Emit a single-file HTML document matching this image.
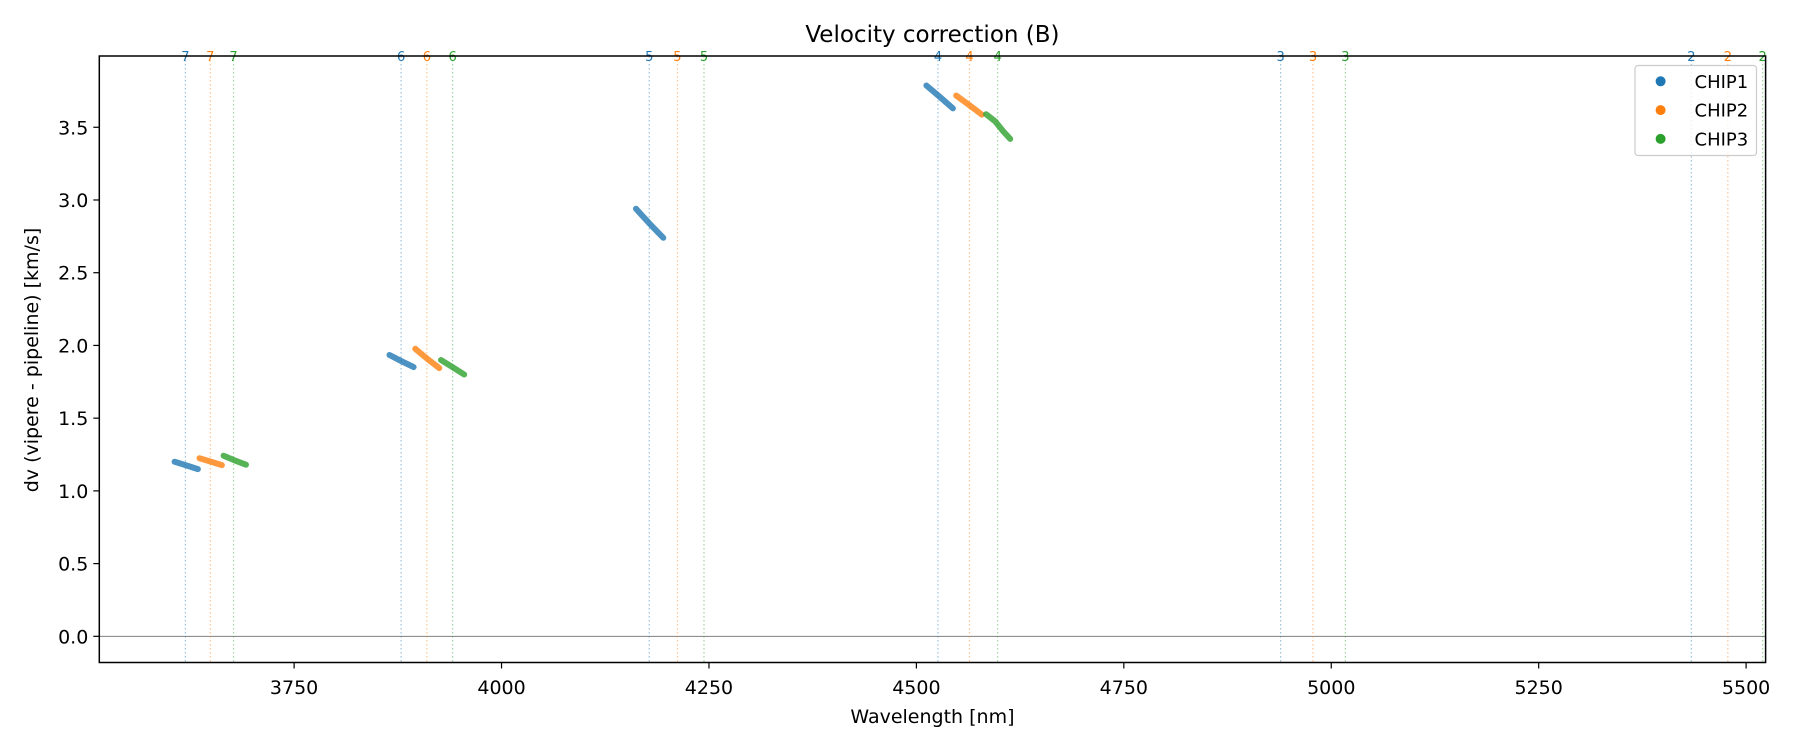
<!DOCTYPE html>
<html><head><meta charset="utf-8"><style>
html,body{margin:0;padding:0;background:#fff}
svg text{font-family:"DejaVu Sans","Liberation Sans",sans-serif}
</style></head><body>
<svg id="chart" width="1800" height="750" viewBox="0 0 1800 750" xmlns="http://www.w3.org/2000/svg">
<rect x="0" y="0" width="1800" height="750" fill="#fff"/>
<g id="grid"></g>
<g id="series"></g>
<g id="axes"></g>
</svg>
<script>
const chips = ['CHIP1','CHIP2','CHIP3'];
const colors = ['#1f77b4','#ff7f0e','#2ca02c'];
const orders = ['7','6','5','4','3','2'];
// order centre wavelengths per chip
const orderWl1 = [3619,3879,4178,4526,4939,5434];
const orderWl2 = [3649,3910,4212,4564,4978,5478];
const orderWl3 = [3677,3941,4244,4598,5017,5520];
// segments: wavelengths and dv values
const seg1Wl = [[3606,3620,3634],[3865,3880,3894],[4162,4178,4195],[4512,4528,4544]];
const seg1Dv = [[1.20,1.175,1.15],[1.934,1.89,1.851],[2.94,2.84,2.74],[3.787,3.71,3.63]];
const seg2Wl = [[3636,3650,3663],[3896,3910,3925],[4548,4563,4579]];
const seg2Dv = [[1.225,1.20,1.177],[1.977,1.91,1.844],[3.718,3.655,3.587]];
const seg3Wl = [[3665,3678,3692],[3927,3941,3955],[4584,4595,4605,4613]];
const seg3Dv = [[1.242,1.21,1.18],[1.90,1.85,1.80],[3.59,3.54,3.47,3.42]];
const xTicks = [3750,4000,4250,4500,4750,5000,5250,5500];
const yTicks = [0.0,0.5,1.0,1.5,2.0,2.5,3.0,3.5];

const L=99.3,R=1765.6,T=56,B=662.5;
const xMin=3515.2,xMax=5523.5,yMin=-0.18,yMax=3.99;
function x(v){return L+(v-xMin)/(xMax-xMin)*(R-L);}
function y(v){return B-(v-yMin)/(yMax-yMin)*(B-T);}
const NS='http://www.w3.org/2000/svg';
function mk(tag,attrs,parent,txt){const e=document.createElementNS(NS,tag);for(const k in attrs)e.setAttribute(k,attrs[k]);if(txt!==undefined)e.textContent=txt;parent.appendChild(e);return e;}
const grid=document.getElementById('grid'),series=document.getElementById('series'),axes=document.getElementById('axes');

// zero line
const z=mk('line',{x1:L,x2:R,y1:y(0),y2:y(0),stroke:'#808080','stroke-width':1},grid);



[orderWl1,orderWl2,orderWl3].forEach((arr,ci)=>{
  arr.forEach((w,i)=>{
    const ln=mk('line',{x1:x(w),x2:x(w),y1:T,y2:B,stroke:colors[ci],'stroke-width':1.2,'stroke-dasharray':'1.5 2.5','stroke-opacity':0.45},grid);
    
    
    const t=mk('text',{x:x(w),y:61,'text-anchor':'middle','font-size':13,fill:colors[ci]},grid,orders[i]);
    
    
  });
});

[[seg1Wl,seg1Dv],[seg2Wl,seg2Dv],[seg3Wl,seg3Dv]].forEach((s,ci)=>{
  s[0].forEach((ws,si)=>{
    const pts=ws.map((w,k)=>x(w).toFixed(1)+','+y(s[1][si][k]).toFixed(1)).join(' ');
    const p=mk('polyline',{points:pts,fill:'none',stroke:colors[ci],'stroke-width':6,'stroke-linecap':'round','stroke-linejoin':'round','stroke-opacity':0.8},series);
    
    
  });
});

// frame
const fr=mk('rect',{x:L,y:T,width:R-L,height:B-T,fill:'none',stroke:'#000','stroke-width':1.5},axes);


xTicks.forEach(v=>{
  const tk=mk('line',{x1:x(v),x2:x(v),y1:B,y2:B+6,stroke:'#000','stroke-width':1.2},axes);
  
  
  const t=mk('text',{x:x(v),y:694,'text-anchor':'middle','font-size':19,fill:'#000'},axes,String(v));
  
  
});
yTicks.forEach(v=>{
  const tk=mk('line',{x1:L-6,x2:L,y1:y(v),y2:y(v),stroke:'#000','stroke-width':1.2},axes);
  
  
  const t=mk('text',{x:L-11,y:y(v)+7,'text-anchor':'end','font-size':19,fill:'#000'},axes,v.toFixed(1));
  
  
});
const tt=mk('text',{x:(L+R)/2,y:42,'text-anchor':'middle','font-size':23,fill:'#000'},axes,'Velocity correction (B)');


const xl=mk('text',{x:(L+R)/2,y:723,'text-anchor':'middle','font-size':19,fill:'#000'},axes,'Wavelength [nm]');


const yl=mk('text',{x:0,y:0,'text-anchor':'middle','font-size':19,fill:'#000',transform:'translate(38,360) rotate(-90)'},axes,'dv (vipere - pipeline) [km/s]');



// legend
const lg=mk('g',{},axes);


mk('rect',{x:1635,y:65.5,width:121.5,height:90,rx:3,fill:'#fff','fill-opacity':0.8,stroke:'#ccc','stroke-width':1.2},lg);
chips.forEach((c,i)=>{
  const yy=81.3+i*28.8;
  const m=mk('circle',{cx:1660.6,cy:yy,r:5,fill:colors[i]},lg);
  
  
  const t=mk('text',{x:1694.5,y:yy+6.5,'font-size':18,fill:'#000'},lg,c);
  
  
});
</script>
</body></html>
